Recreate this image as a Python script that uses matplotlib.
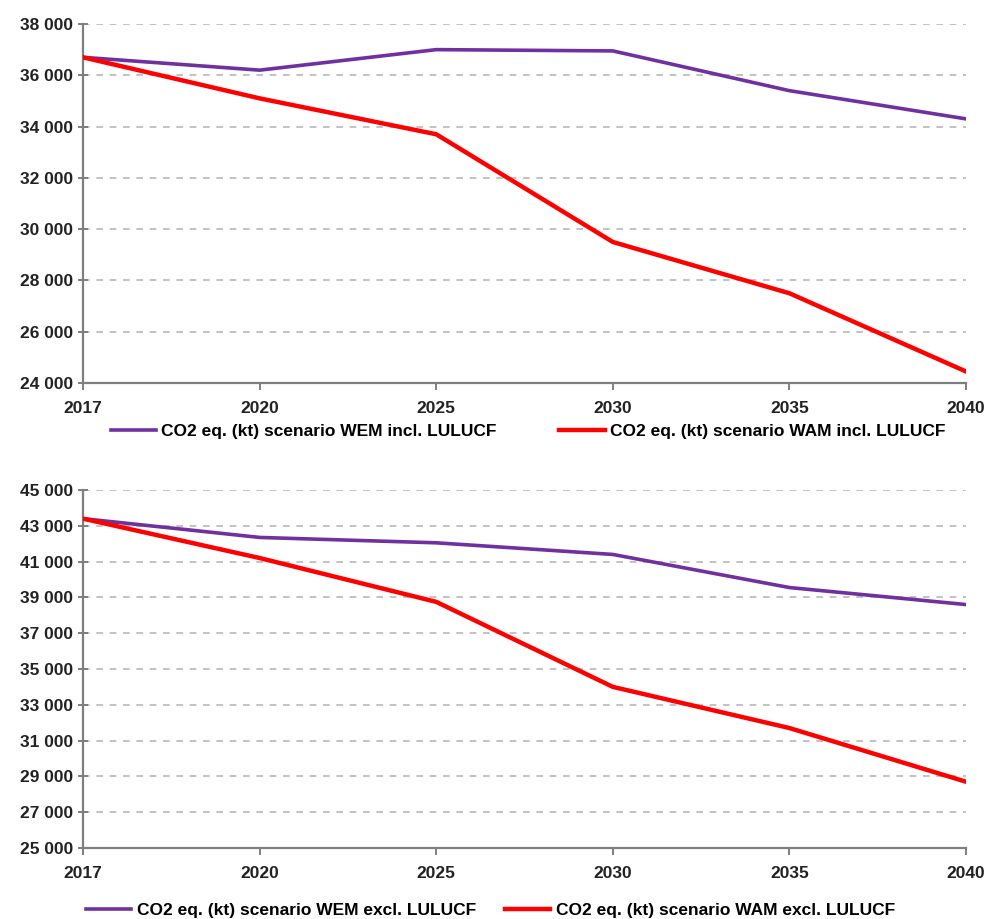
import matplotlib; matplotlib.use("Agg")
import matplotlib.pyplot as plt
from matplotlib.ticker import FuncFormatter

years = ["2017", "2020", "2025", "2030", "2035", "2040"]
# CO2 eq. (kt), incl. LULUCF
wem_incl = [36700, 36200, 37000, 36950, 35400, 34300]
wam_incl = [36700, 35100, 33700, 29500, 27500, 24450]
# CO2 eq. (kt), excl. LULUCF
wem_excl = [43400, 42350, 42050, 41400, 39550, 38600]
wam_excl = [43400, 41200, 38750, 34000, 31700, 28700]

PURPLE, RED = "#7030a0", "#ff0000"
plt.rcParams["font.family"] = ["Liberation Sans", "DejaVu Sans"]
plt.rcParams["font.weight"] = "bold"

fig = plt.figure(figsize=(9.91, 9.19), dpi=100)
ax1 = fig.add_axes([0.0838, 0.5832, 0.8910, 0.3907])
ax2 = fig.add_axes([0.0838, 0.0773, 0.8910, 0.3895])

fmt = FuncFormatter(lambda v, p: f"{int(v):,}".replace(",", " "))

def style(ax, lo, hi, step):
    ax.set_xlim(0, len(years) - 1)
    ax.set_ylim(lo, hi)
    ax.set_yticks(range(lo, hi + 1, step))
    ax.yaxis.set_major_formatter(fmt)
    ax.set_xticks(range(len(years)))
    ax.set_xticklabels(years)
    for v in range(lo + step, hi + 1, step):
        ax.axhline(v, color="#b8b8b8", lw=1.2, ls=(0, (4, 4)), zorder=0)
    for s in ("top", "right"):
        ax.spines[s].set_visible(False)
    for s in ("left", "bottom"):
        ax.spines[s].set_color("#7f7f7f"); ax.spines[s].set_linewidth(1.6)
    ax.tick_params(axis="both", colors="#7f7f7f", labelcolor="#222222",
                   labelsize=12.5, width=1.4, length=5)
    ax.tick_params(axis="x", pad=8)
    ax.tick_params(axis="y", direction="inout", length=7)
    for t in ax.get_xticklabels() + ax.get_yticklabels():
        t.set_fontweight("bold")

x = range(len(years))
l1, = ax1.plot(x, wem_incl, color=PURPLE, lw=2.6, label="CO2 eq. (kt) scenario WEM incl. LULUCF", zorder=3)
l2, = ax1.plot(x, wam_incl, color=RED, lw=3.2, label="CO2 eq. (kt) scenario WAM incl. LULUCF", zorder=3)
style(ax1, 24000, 38000, 2000)
l3, = ax2.plot(x, wem_excl, color=PURPLE, lw=2.6, label="CO2 eq. (kt) scenario WEM excl. LULUCF", zorder=3)
l4, = ax2.plot(x, wam_excl, color=RED, lw=3.2, label="CO2 eq. (kt) scenario WAM excl. LULUCF", zorder=3)
style(ax2, 25000, 45000, 2000)

leg_kw = dict(ncol=2, frameon=False, handlelength=2.6, handletextpad=0.3,
              prop={"size": 12.5, "weight": "bold"})
fig.legend(handles=[l1, l2], loc="center", bbox_to_anchor=(0.533, 1 - 431 / 919),
           columnspacing=3.6, **leg_kw)
fig.legend(handles=[l3, l4], loc="center", bbox_to_anchor=(0.495, 1 - 910 / 919),
           columnspacing=1.7, **leg_kw)

fig.savefig("out.png", dpi=100)
